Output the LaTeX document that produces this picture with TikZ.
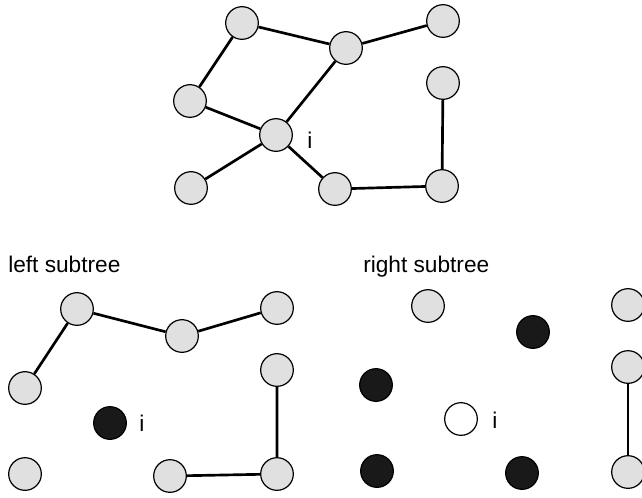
\documentclass[tikz,border=0pt]{standalone}
\usepackage{fontspec}
\setmainfont{Liberation Sans}
\begin{document}
\begin{tikzpicture}[x=0.75pt,y=-0.75pt,
  vtx/.style={circle,draw=black,line width=0.9pt,fill=black!12,minimum size=24.5pt,inner sep=0pt},
  blk/.style={vtx,fill=black!90},
  wht/.style={vtx,fill=white},
  edge/.style={line width=2pt},
  lbl/.style={font=\fontsize{17}{20}\selectfont,inner sep=0pt}]
\useasboundingbox (0,0) rectangle (642,497);
\clip (0,0) rectangle (642,497);
% top graph
\node[vtx] (a) at (242,23) {};
\node[vtx] (b) at (346,48) {};
\node[vtx] (c) at (443,21) {};
\node[vtx] (d) at (190,101) {};
\node[vtx] (e) at (276,135) {};
\node[vtx] (f) at (443,83) {};
\node[vtx] (g) at (191,188) {};
\node[vtx] (h) at (335,189) {};
\node[vtx] (j) at (442,186) {};
\node[lbl] (ei) at (310,140) {i};
\draw[edge] (a)--(b) (b)--(c) (a)--(d) (d)--(e) (e)--(b) (e)--(g) (e)--(h) (h)--(j) (j)--(f);
% left subtree
\node[lbl,anchor=base west] (lt) at (8,272) {left subtree};
\node[vtx] (l1) at (77,309) {};
\node[vtx] (l2) at (182,336) {};
\node[vtx] (l3) at (277,308) {};
\node[vtx] (l4) at (25,388) {};
\node[blk] (l5) at (110,423) {};
\node[lbl] (l5i) at (142,423) {i};
\node[vtx] (l6) at (277,370) {};
\node[vtx] (l7) at (25,474) {};
\node[vtx] (l8) at (170,476) {};
\node[vtx] (l9) at (277,474) {};
\draw[edge] (l1)--(l2) (l2)--(l3) (l1)--(l4) (l6)--(l9) (l8)--(l9);
% right subtree
\node[lbl,anchor=base west] (rt) at (363,272) {right subtree};
\node[vtx] (r1) at (428,306) {};
\node[blk] (r2) at (533,332) {};
\node[blk] (r3) at (376,385) {};
\node[wht] (r4) at (461,419) {};
\node[lbl] (r4i) at (495,420) {i};
\node[blk] (r5) at (377,471) {};
\node[blk] (r6) at (522,473) {};
\node[vtx] (r7) at (628,305) {};
\node[vtx] (r8) at (628,367) {};
\node[vtx] (r9) at (628,472) {};
\draw[edge] (r8)--(r9);
\end{tikzpicture}
\end{document}
